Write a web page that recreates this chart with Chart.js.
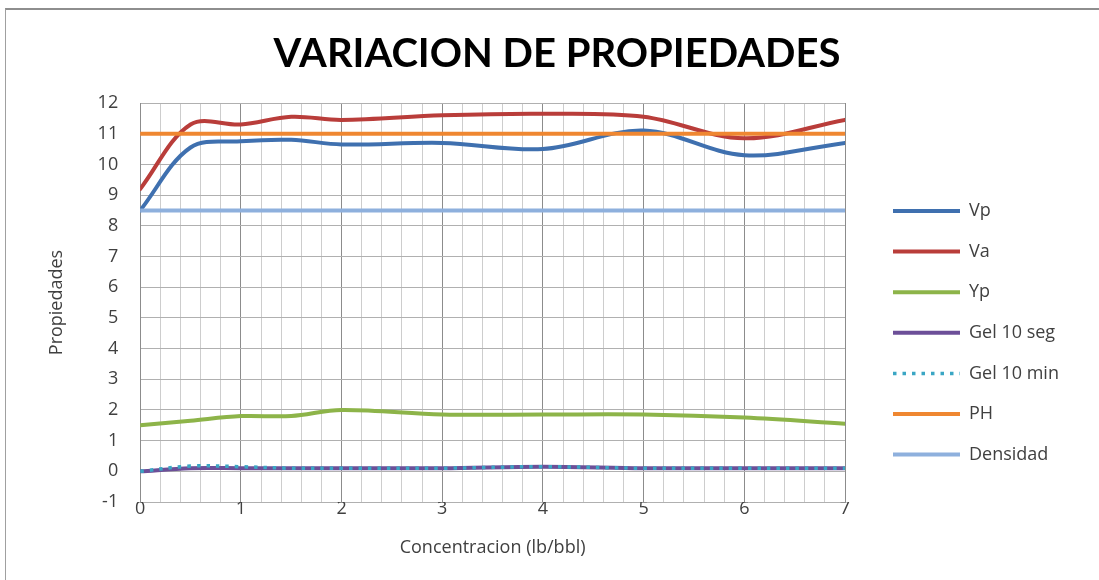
<!DOCTYPE html>
<html lang="es">
<head>
  <meta charset="UTF-8">
  <title>Variacion de propiedades</title>
  <script src="https://cdn.jsdelivr.net/npm/chart.js"></script>
</head>
<body>
<style>
    body {
        margin: 0;
        background-color: #ffffff;
        overflow: hidden;
    }

    .wrapper-chart {
        position: relative;
        width: 1099px;
        height: 580px;
    }

    .chart-frame {
        position: absolute;
        left: 5px;
        top: 8px;
        width: 1200px;
        height: 700px;
        border-top: 2px solid #8e8e8e;
        border-left: 1px solid #a0a0a0;
        pointer-events: none;
    }
</style>

<div class="wrapper-chart">
  <canvas id="myChart" width="1099" height="580"></canvas>
  <div class="chart-frame"></div>
</div>

<script>
    // concentracion (lb/bbl) y propiedades medidas
    const concentracion = [0, 0.5, 1, 1.5, 2, 3, 4, 5, 6, 7];
    const vp = [8.5, 10.55, 10.75, 10.8, 10.65, 10.7, 10.5, 11.1, 10.3, 10.7];
    const va = [9.2, 11.3, 11.3, 11.55, 11.45, 11.6, 11.65, 11.55, 10.85, 11.45];
    const yp = [1.5, 1.65, 1.8, 1.8, 2.0, 1.85, 1.85, 1.85, 1.75, 1.55];
    const gel10seg = [0, 0.1, 0.1, 0.1, 0.1, 0.1, 0.15, 0.1, 0.1, 0.1];
    const gel10min = [0, 0.17, 0.15, 0.1, 0.1, 0.1, 0.15, 0.1, 0.1, 0.1];
    const ph = [11, 11, 11, 11, 11, 11, 11, 11, 11, 11];
    const densidad = [8.5, 8.5, 8.5, 8.5, 8.5, 8.5, 8.5, 8.5, 8.5, 8.5];

    const xTicksMin = 0, xTicksMax = 7, xTicksStep = 0.2;
    const yTicksMin = -1, yTicksMax = 12, yTicksStep = 1;

    const textColor = '#404040';

    function toPoints(values) {
        return values.map((v, i) => ({x: concentracion[i], y: v}));
    }

    function serie(label, values, color, extra) {
        return Object.assign({
            label: label,
            data: toPoints(values),
            borderColor: color,
            backgroundColor: color,
            borderWidth: 4,
            pointRadius: 0,
            tension: 0.35,
            borderCapStyle: 'round'
        }, extra || {});
    }

    const datasets = [
        serie('Vp', vp, '#3f70af'),
        serie('Va', va, '#b93d3a'),
        serie('Yp', yp, '#8db449'),
        serie('Gel 10 seg', gel10seg, '#6c4f98'),
        serie('Gel 10 min', gel10min, '#3aa6c4', {borderWidth: 3.5, borderDash: [3.5, 6], borderCapStyle: 'butt'}),
        serie('PH', ph, '#ef8731', {tension: 0}),
        serie('Densidad', densidad, '#8eb0dd', {tension: 0})
    ];
    // later series are painted on top of earlier ones
    datasets.forEach((ds, i) => { ds.order = datasets.length - i; });

    const isInteger = (v) => Math.abs(v - Math.round(v)) < 1e-6;

    // moves title and legend blocks to their spots around the plot
    const blockPlacement = {
        id: 'blockPlacement',
        afterLayout(chart) {
            const title = chart.titleBlock;
            if (title) {
                title.left = 15;
                title.right = 1099;
            }
            const legend = chart.legend;
            if (legend) {
                const pad = legend.options.labels.padding;
                const w = legend.width;
                legend.left = 893 - pad;
                legend.right = legend.left + w;
                legend.top = 202 - pad;
                legend.bottom = 580;
            }
        }
    };

    Chart.defaults.font.family = "'Open Sans', 'DejaVu Sans', sans-serif";
    Chart.defaults.color = textColor;

    const config = {
        type: 'line',
        data: {datasets: datasets},
        options: {
            responsive: false,
            animation: false,
            devicePixelRatio: 1,
            layout: {
                padding: {left: 46, right: 254, top: 0, bottom: 21.8}
            },
            plugins: {
                title: {
                    display: true,
                    text: 'VARIACION DE PROPIEDADES',
                    color: '#000000',
                    font: {family: "'Lato', sans-serif", size: 40, weight: 'bold'},
                    padding: {top: 30, bottom: 25}
                },
                legend: {
                    position: 'chartArea',
                    align: 'start',
                    labels: {
                        usePointStyle: true,
                        pointStyle: 'line',
                        pointStyleWidth: 67,
                        padding: 22.6,
                        color: textColor,
                        font: {size: 18},
                        generateLabels(chart) {
                            return chart.data.datasets.map((ds, i) => ({
                                text: ds.label,
                                strokeStyle: ds.borderColor,
                                fillStyle: ds.borderColor,
                                lineWidth: ds.borderWidth,
                                lineDash: ds.borderDash || [],
                                lineCap: 'butt',
                                pointStyle: 'line',
                                fontColor: textColor,
                                hidden: false,
                                datasetIndex: i
                            }));
                        }
                    }
                },
                tooltip: {enabled: false}
            },
            scales: {
                x: {
                    type: 'linear',
                    min: xTicksMin,
                    max: xTicksMax,
                    grid: {
                        drawTicks: false,
                        color: (ctx) => isInteger(ctx.tick.value) ? '#8c8c8c' : '#cdcdcd'
                    },
                    border: {color: '#b0b0b0'},
                    ticks: {
                        stepSize: xTicksStep,
                        autoSkip: false,
                        maxRotation: 0,
                        padding: -4,
                        color: textColor,
                        font: {size: 18},
                        callback: (v) => isInteger(v) ? String(Math.round(v)) : ''
                    },
                    title: {
                        display: true,
                        text: 'Concentracion (lb/bbl)',
                        color: textColor,
                        font: {size: 18},
                        padding: {top: 21, bottom: 0}
                    }
                },
                y: {
                    min: yTicksMin,
                    max: yTicksMax,
                    grid: {
                        drawTicks: false,
                        color: '#b0b0b0'
                    },
                    border: {color: '#8c8c8c'},
                    ticks: {
                        stepSize: yTicksStep,
                        padding: 22,
                        color: textColor,
                        font: {size: 18}
                    },
                    title: {
                        display: true,
                        text: 'Propiedades',
                        color: textColor,
                        font: {size: 18},
                        padding: {top: 0, bottom: 8}
                    }
                }
            }
        },
        plugins: [blockPlacement]
    };

    const myChart = new Chart(document.getElementById('myChart'), config);
</script>
</body>
</html>
